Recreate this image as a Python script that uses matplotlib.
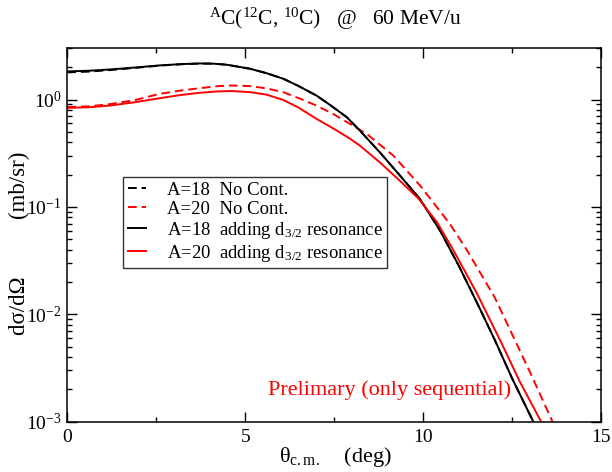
import matplotlib
matplotlib.use("Agg")
import matplotlib.pyplot as plt
from matplotlib.ticker import LogLocator, NullFormatter, MultipleLocator

plt.rcParams['font.family'] = ['Liberation Serif', 'DejaVu Serif']
plt.rcParams['mathtext.fontset'] = 'custom'
plt.rcParams['mathtext.rm'] = 'Liberation Serif'
plt.rcParams['mathtext.it'] = 'Liberation Serif:italic'
plt.rcParams['mathtext.default'] = 'regular'

# A=18, adding d3/2 resonance (black solid)
x_18_res = [0, 0.6, 1.2, 1.9, 2.6, 3.2, 3.73, 4.1, 4.48, 5.13, 5.6, 6.07, 6.5, 7.0,
            7.4, 7.85, 8.22, 8.78, 9.35, 9.91, 10.47, 11.0, 11.55, 12.01, 12.5, 13.09, 13.4]
y_18_res = [1.828, 1.854, 1.905, 1.986, 2.080, 2.138, 2.168, 2.158, 2.109, 1.936, 1.758,
            1.560, 1.334, 1.089, 0.881, 0.685, 0.513, 0.322, 0.195, 0.118, 0.0603, 0.0282,
            0.0120, 0.00575, 0.00251, 0.00100, 0.00059]

# A=18, no continuum (black dashed)
x_18_nc = x_18_res
y_18_nc = [1.79, 1.82, 1.88, 1.97, 2.07, 2.13, 2.165, 2.158, 2.109, 1.936, 1.758,
           1.560, 1.334, 1.089, 0.881, 0.685, 0.513, 0.322, 0.195, 0.118, 0.0603, 0.0282,
           0.0120, 0.00575, 0.00251, 0.00100, 0.00059]

# A=20, adding d3/2 resonance (red solid)
x_20_res = [0, 0.6, 1.2, 1.9, 2.6, 3.2, 3.73, 4.2, 4.6, 5.13, 5.6, 6.07, 6.5, 7.0, 7.5,
            7.94, 8.22, 8.78, 9.35, 9.86, 10.38, 10.84, 11.5, 12.2, 12.7, 13.31, 13.6]
y_20_res = [0.836, 0.847, 0.879, 0.944, 1.030, 1.104, 1.156, 1.189, 1.200, 1.172, 1.110,
            0.990, 0.840, 0.661, 0.531, 0.432, 0.372, 0.260, 0.174, 0.120, 0.0724, 0.0398,
            0.0158, 0.00537, 0.00240, 0.00100, 0.00063]

# A=20, no continuum (red dashed)
x_20_nc = [0, 0.6, 1.2, 1.9, 2.6, 3.2, 3.73, 4.2, 4.57, 5.13, 5.6, 6.07, 6.5, 7.0, 7.5,
           7.94, 8.41, 9.16, 9.91, 10.75, 11.22, 12.0, 12.53, 13.0, 13.6, 13.9]
y_20_nc = [0.851, 0.865, 0.906, 0.989, 1.130, 1.216, 1.276, 1.330, 1.352, 1.334, 1.270,
           1.170, 1.030, 0.879, 0.724, 0.593, 0.479, 0.300, 0.158, 0.0692, 0.0398, 0.0145,
           0.00617, 0.00288, 0.00105, 0.00063]

W, H = 612, 472
fig = plt.figure(figsize=(W / 100, H / 100), dpi=100)
ax = fig.add_axes([67.3 / W, 1 - 421.7 / H, 534 / W, 373.4 / H])

dash = (0, (4.5, 2.5))
ax.plot(x_18_nc, y_18_nc, color='black', lw=1.4, linestyle=dash, label='A=18  No Cont.')
ax.plot(x_20_nc, y_20_nc, color='red', lw=1.4, linestyle=dash, label='A=20  No Cont.')
ax.plot(x_18_res, y_18_res, color='black', lw=1.4, label='A=18  adding d$_{3/2}$ resonance')
ax.plot(x_20_res, y_20_res, color='red', lw=1.4, label='A=20  adding d$_{3/2}$ resonance')

ax.set_yscale('log')
ax.set_xlim(0, 15)
ax.set_ylim(1e-3, 3)
ax.xaxis.set_major_locator(MultipleLocator(5))
ax.xaxis.set_minor_locator(MultipleLocator(2.5))
ax.yaxis.set_major_locator(LogLocator(base=10, numticks=10))
ax.yaxis.set_minor_locator(LogLocator(base=10, subs=range(2, 10), numticks=10))
ax.yaxis.set_minor_formatter(NullFormatter())
ax.tick_params(which='both', direction='in', top=True, right=True, labelsize=14, width=1)
ax.tick_params(which='major', length=7)
ax.tick_params(which='minor', length=3.5)
ax.tick_params(axis='x', pad=5)
ax.tick_params(axis='y', pad=4)
for s in ax.spines.values():
    s.set_linewidth(1.1)

leg = ax.legend(loc='upper left', bbox_to_anchor=(0.104, 0.655), borderaxespad=0,
                fontsize=13.5, frameon=True, fancybox=False, edgecolor='black',
                handlelength=1.0, handletextpad=1.1, labelspacing=0.1,
                borderpad=0.25)
leg.get_frame().set_linewidth(1.0)

fig.text(335 / W, 1 - 25 / H, r'$^{A}$C($^{12}$C, $^{10}$C)   @   60 MeV/u',
         ha='center', va='baseline', fontsize=15.5)
fig.text(19 / W, 1 - 243 / H, 'dσ/dΩ          (mb/sr)', rotation=90,
         ha='center', va='center', fontsize=16.5)
fig.text(335 / W, 1 - 457 / H, r'θ$_{c.m.}$    (deg)', ha='center', va='center', fontsize=16)
ax.text(0.376, 0.0715, 'Prelimary (only sequential)', transform=ax.transAxes,
        color='red', fontsize=16, ha='left', va='baseline')

fig.savefig('out.png', dpi=100)
